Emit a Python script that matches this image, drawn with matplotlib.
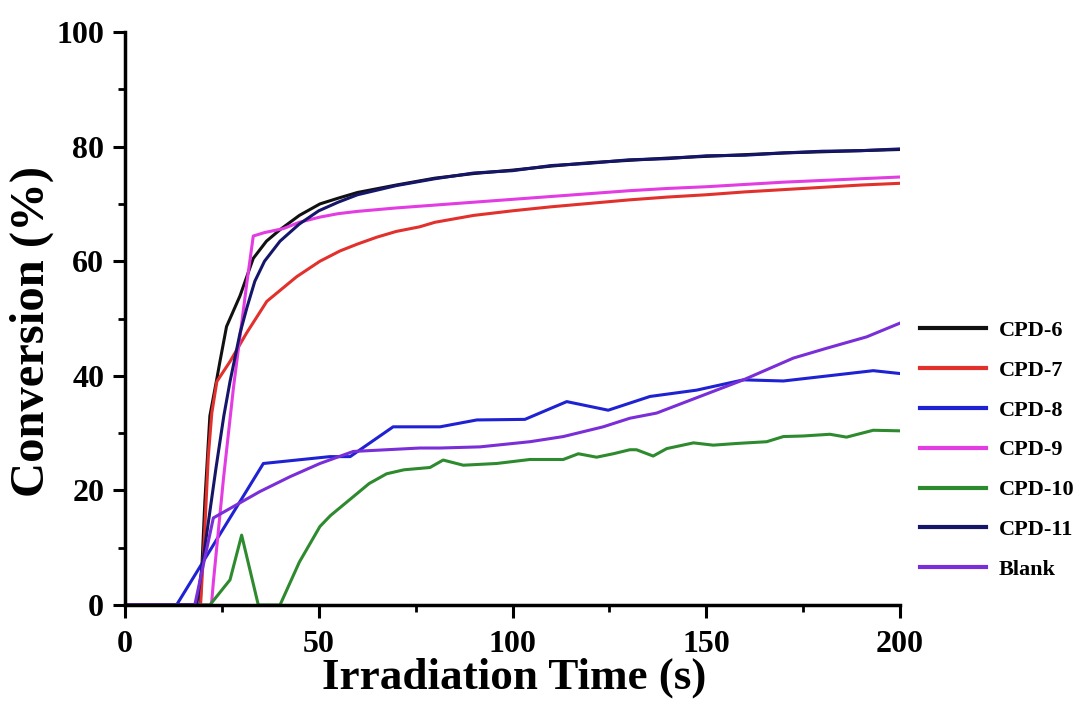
import matplotlib.pyplot as plt
from matplotlib.ticker import MultipleLocator

plt.rcParams['font.family'] = 'Liberation Serif'
plt.rcParams['font.weight'] = 'bold'

# data (time in s, conversion in %)
t_cpd6 = [0, 19.4, 20.6, 21.9, 23.7, 24.5, 26.2, 29.7, 33.1, 36.5, 40, 45, 50.3, 55, 60,
          70, 80, 90, 100, 110, 120, 130, 140, 150, 160, 170, 180, 190, 200]
y_cpd6 = [0, 0, 18, 33, 39.5, 42.5, 48.6, 54, 60.5, 63.5, 65.5, 68, 70, 71, 72,
          73.3, 74.5, 75.3, 75.9, 76.6, 77.2, 77.6, 78.0, 78.3, 78.6, 78.9, 79.1, 79.3, 79.5]

t_cpd7 = [0, 19.5, 20.5, 21.5, 22.4, 23.7, 27.1, 31.4, 36.6, 44.3, 50.3, 55.5, 60, 65,
          70, 76, 80, 90, 100, 110, 120, 130, 140, 150, 160, 170, 180, 190, 200]
y_cpd7 = [0, 0, 12, 26, 33.5, 39, 42.5, 47.5, 53, 57.3, 60, 61.8, 63, 64.2,
          65.2, 66, 66.8, 68, 68.8, 69.5, 70.1, 70.7, 71.2, 71.6, 72.1, 72.5, 72.9, 73.3, 73.6]

t_cpd8 = [0, 13.3, 35.7, 52.9, 58.1, 69.2, 81.3, 90.8, 103.2, 114, 124.7, 135.5, 147.5,
          159.6, 169.9, 182.8, 193.1, 200]
y_cpd8 = [0, 0, 24.7, 25.9, 25.9, 31.1, 31.1, 32.3, 32.4, 35.5, 34.0, 36.4, 37.5,
          39.3, 39.1, 40.1, 40.9, 40.4]

t_cpd9 = [0, 22.3, 22.8, 25.4, 28, 31.4, 33.1, 36, 40.9, 45, 50.3, 55, 60, 70, 80, 90,
          100, 110, 120, 130, 140, 150, 160, 170, 180, 190, 200]
y_cpd9 = [0, 0, 4, 22, 38, 56, 64.4, 65, 65.7, 66.8, 67.7, 68.3, 68.7, 69.3, 69.8, 70.3,
          70.8, 71.3, 71.8, 72.3, 72.7, 73.0, 73.4, 73.8, 74.1, 74.4, 74.7]

t_cpd10 = [0, 21.9, 27.1, 30.1, 34.4, 40, 45, 50.3, 53, 58.9, 63, 67.5, 72, 78.7, 82.1,
           87.3, 95.9, 104.5, 113.1, 117, 121.7, 126, 130.3, 132, 136.3, 139.8, 146.7,
           151.8, 158, 165.6, 169.9, 175, 181.9, 186.2, 193.1, 200]
y_cpd10 = [0, 0, 4.4, 12.2, 0, 0, 7.5, 13.7, 15.6, 18.9, 21.2, 22.9, 23.6, 24.0, 25.3,
           24.4, 24.7, 25.4, 25.4, 26.4, 25.8, 26.4, 27.1, 27.1, 26.0, 27.3, 28.3,
           27.9, 28.2, 28.5, 29.4, 29.5, 29.8, 29.3, 30.5, 30.4]

t_cpd11 = [0, 18.5, 21, 23.5, 25.5, 27.1, 29.7, 31.5, 33.5, 36, 40, 45, 50, 55, 60,
           70, 80, 90, 100, 110, 120, 130, 140, 150, 160, 170, 180, 190, 200]
y_cpd11 = [0, 0, 12, 24, 33, 39, 47.5, 52, 56.5, 60, 63.5, 66.5, 68.8, 70.3, 71.6,
           73.2, 74.4, 75.4, 75.8, 76.7, 77.1, 77.7, 77.9, 78.4, 78.5, 78.9, 79.2, 79.3, 79.6]

t_blank = [0, 18, 22.8, 34.8, 42.6, 50.3, 58.9, 67.5, 76.1, 81.3, 91.6, 104.5, 113.1,
           123.4, 130.3, 137.2, 148, 159.6, 172.5, 181, 191.4, 200]
y_blank = [0, 0, 15.2, 19.8, 22.4, 24.7, 26.8, 27.1, 27.4, 27.4, 27.6, 28.5, 29.4,
           31.1, 32.6, 33.5, 36.3, 39.3, 43.1, 44.8, 46.8, 49.2]

series = [
    ('CPD-6', t_cpd6, y_cpd6, '#111111'),
    ('CPD-7', t_cpd7, y_cpd7, '#e2302c'),
    ('CPD-8', t_cpd8, y_cpd8, '#1f22d2'),
    ('CPD-9', t_cpd9, y_cpd9, '#e23ce2'),
    ('CPD-10', t_cpd10, y_cpd10, '#2e8a2e'),
    ('CPD-11', t_cpd11, y_cpd11, '#15166a'),
    ('Blank', t_blank, y_blank, '#7a2ed8'),
]

fig = plt.figure(figsize=(10.88, 7.04), dpi=100)
ax = fig.add_axes([0.1149, 0.1406, 0.7123, 0.8139])

for name, t, y, c in series:
    ax.plot(t, y, color=c, lw=2.2, label=name)

ax.set_xlim(0, 200)
ax.set_ylim(0, 100)
ax.xaxis.set_major_locator(MultipleLocator(50))
ax.xaxis.set_minor_locator(MultipleLocator(25))
ax.yaxis.set_major_locator(MultipleLocator(20))
ax.yaxis.set_minor_locator(MultipleLocator(10))

for side in ['top', 'right']:
    ax.spines[side].set_visible(False)
for side in ['left', 'bottom']:
    ax.spines[side].set_linewidth(2.5)

ax.tick_params(which='major', direction='out', length=9, width=2.2, labelsize=23)
ax.tick_params(axis='x', which='major', pad=9)
ax.tick_params(axis='y', which='major', pad=6)
ax.tick_params(which='minor', direction='out', length=5, width=2)
for lab in ax.get_xticklabels() + ax.get_yticklabels():
    lab.set_fontweight('bold')

ax.set_xlabel('Irradiation Time (s)', fontsize=32.5, fontweight='bold')
ax.xaxis.set_label_coords(0.5026, -0.092)
ax.set_ylabel('Conversion (%)', fontsize=35, fontweight='bold')
ax.yaxis.set_label_coords(-0.092, 0.478)

leg = ax.legend(loc='upper left', bbox_to_anchor=(1.0, 0.532), frameon=False,
                handlelength=2.95, handletextpad=0.6, labelspacing=0.87,
                prop={'weight': 'bold', 'size': 16})
for line in leg.get_lines():
    line.set_linewidth(3)

fig.savefig('out.png', dpi=100)
